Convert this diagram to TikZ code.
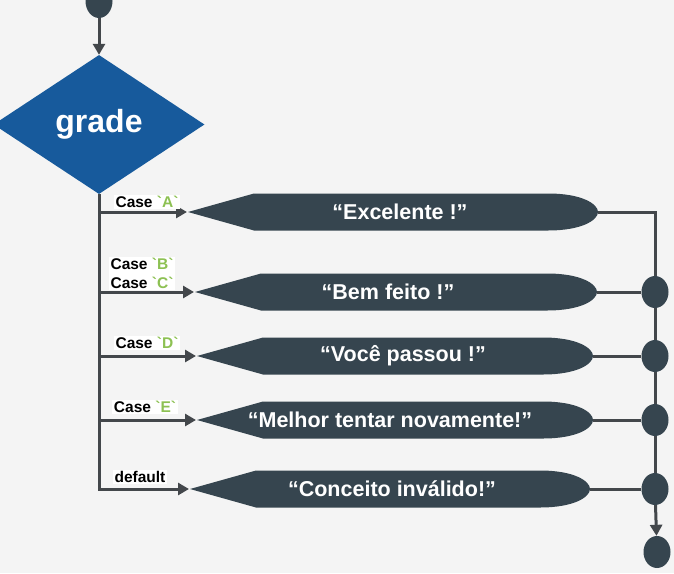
\documentclass[tikz,border=0pt]{standalone}
\usepackage{fontspec}
\setmainfont{Liberation Sans}
\usetikzlibrary{shapes.geometric, positioning, arrows.meta}
\usepackage{xcolor}
\definecolor{FlowBlue}{HTML}{175A9C}
\definecolor{FlowSlate}{HTML}{36454F}
\definecolor{FlowLine}{HTML}{43474B}
\definecolor{FlowGreen}{HTML}{8DC153}
\definecolor{FlowBack}{HTML}{F4F4F4}

\begin{document}
\begin{tikzpicture}[x=1pt, y=-1pt,
    line/.style={FlowLine, line width=3pt},
    arrow/.style={line, -{Triangle[length=11pt, width=12pt]}},
    dot/.style={ellipse, fill=FlowSlate, minimum width=27pt, minimum height=32pt, inner sep=0pt},
    caselabel/.style={fill=white, font=\fontsize{15.5}{19}\selectfont\bfseries, inner sep=1.5pt, align=left},
    msg/.style={text=white, font=\fontsize{21.5}{23}\selectfont\bfseries}]
    % Background
    \useasboundingbox (0,0) rectangle (674,573);
    \fill[FlowBack] (0,0) rectangle (674,573);

    % Start and decision
    \node[dot, minimum height=34pt] (start) at (99,1) {};
    \node[diamond, fill=FlowBlue, minimum width=211pt, minimum height=139pt, inner sep=0pt,
        text=white, font=\fontsize{32}{34}\selectfont\bfseries] (grade) at (99,124.5) {grade};
    \draw[arrow] (start.south) -- (grade.north);

    % Display boxes
    \foreach \name/\tip/\y/\rx/\tx/\msgtext in {
        ex/188/212/598/400/{“Excelente !”},
        bem/195/292/597/388/{“Bem feito !”},
        voce/197/356/593/403/{“Você passou !”},
        melhor/197/420/593/390/{“Melhor tentar novamente!”},
        conceito/190/489/590/392/{“Conceito inválido!”}}{
        \fill[FlowSlate] (\tip,\y) -- (\tip+66,\y-18.5) -- (\rx-50,\y-18.5)
            .. controls (\rx-16,\y-18.5) and (\rx,\y-8) .. (\rx,\y)
            .. controls (\rx,\y+8) and (\rx-16,\y+18.5) .. (\rx-50,\y+18.5)
            -- (\tip+66,\y+18.5) -- cycle;
        \node[msg] (\name) at (\tx,\y) {\msgtext};
        \coordinate (\name-in) at (\tip,\y);
        \coordinate (\name-out) at (\rx,\y);
    }

    % Branches
    \foreach \name in {ex, bem, voce, melhor}
        \draw[arrow] (grade.south |- \name-in) -- ([xshift=-1pt]\name-in);
    \draw[arrow] (grade.south) |- ([xshift=-1pt]conceito-in);

    % Case labels
    \node[caselabel] (caseA) at (147,202) {Case \textcolor{FlowGreen}{\textasciigrave A\textasciigrave}};
    \node[caselabel] (caseBC) at (142,273.5) {Case \textcolor{FlowGreen}{\textasciigrave B\textasciigrave}\\Case \textcolor{FlowGreen}{\textasciigrave C\textasciigrave}};
    \node[caselabel] (caseD) at (147,343) {Case \textcolor{FlowGreen}{\textasciigrave D\textasciigrave}};
    \node[caselabel] (caseE) at (145,407) {Case \textcolor{FlowGreen}{\textasciigrave E\textasciigrave}};
    \node[caselabel] (default) at (140,477) {default};

    % Joins
    \node[dot] (j1) at (655,292) {};
    \node[dot] (j2) at (655,356) {};
    \node[dot] (j3) at (655,420) {};
    \node[dot] (j4) at (655,489) {};
    \node[dot] (stop) at (657,552) {};

    \draw[line] (ex-out) -| (j1);
    \draw[line] (bem-out) -- (j1);
    \draw[line] (voce-out) -- (j2);
    \draw[line] (melhor-out) -- (j3);
    \draw[line] (conceito-out) -- (j4);
    \draw[line] (j1) -- (j2);
    \draw[line] (j2) -- (j3);
    \draw[line] (j3) -- (j4);
    \draw[arrow] (j4) -- (stop);
\end{tikzpicture}
\end{document}
